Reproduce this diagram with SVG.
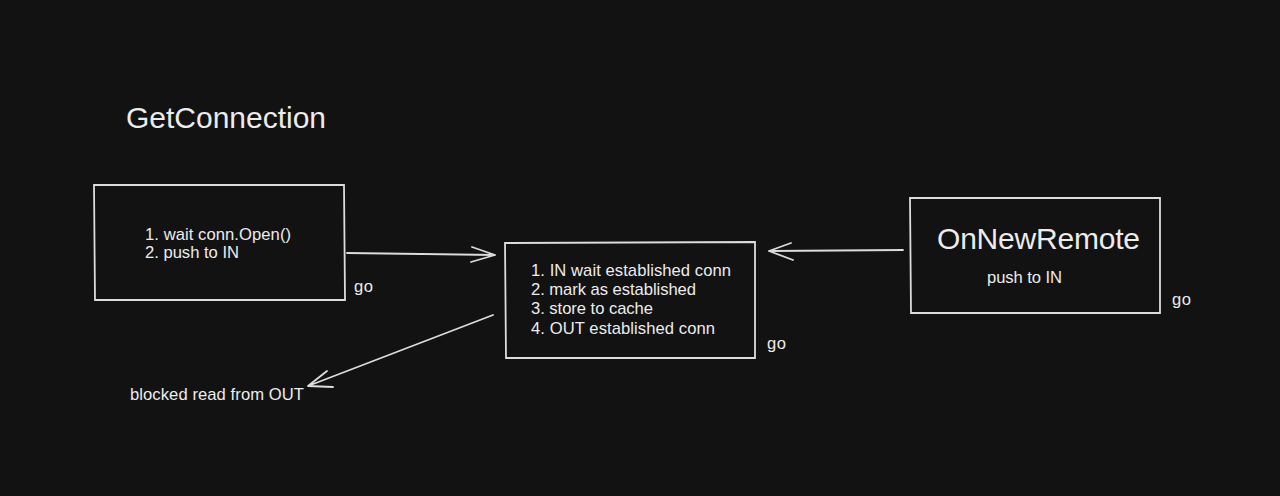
<svg xmlns="http://www.w3.org/2000/svg" width="1280" height="496" viewBox="0 0 1280 496">
<style>
.box{fill:#121212;stroke:#dcdcdc;stroke-width:1.8}
.t{font-family:"Liberation Sans",Arial,sans-serif;fill:#ececec;font-size:16.6px}
.big{font-family:"Liberation Sans",Arial,sans-serif;fill:#ececec;font-size:30px}
.c{fill:none;stroke:#dcdcdc;stroke-width:1.8;stroke-linecap:round;stroke-linejoin:round}
</style>
<rect width="1280" height="496" fill="#121212"/>
<text class="big" x="126" y="128" textLength="200">GetConnection</text>
<g id="getconnection">
<path class="box" d="M94,185 L344,185 L345,300 L95,300 Z"/>
<text class="t" x="145" y="240" textLength="146">1. wait conn.Open()</text>
<text class="t" x="145" y="258" textLength="94">2. push to IN</text>
<text class="t" x="354" y="292" textLength="19">go</text>
</g>
<g id="worker">
<path class="box" d="M505,243 L755,242 L755,358 L506,358 Z"/>
<text class="t" x="531" y="276" textLength="200">1. IN wait established conn</text>
<text class="t" x="531" y="295" textLength="165">2. mark as established</text>
<text class="t" x="531" y="314" textLength="122">3. store to cache</text>
<text class="t" x="531" y="334" textLength="184">4. OUT established conn</text>
<text class="t" x="767" y="349" textLength="19">go</text>
</g>
<g id="onnewremote">
<path class="box" d="M910,198 L1160,198 L1160,313 L911,313 Z"/>
<text class="big" x="937" y="249" textLength="203">OnNewRemote</text>
<text class="t" x="987" y="283" textLength="75">push to IN</text>
<text class="t" x="1172" y="305" textLength="19">go</text>
</g>
<g id="blocked">
<text class="t" x="130" y="400" textLength="174">blocked read from OUT</text>
</g>
<g id="connectors">
<path class="c" d="M347,253 L495,255 M472,247 L495,255 L471,262"/>
<path class="c" d="M903,250 L769,251 M791,243 L769,251 L793,260"/>
<path class="c" d="M493,315 L308,386 M327,371 L308,386 L333,387"/>
</g>
</svg>
